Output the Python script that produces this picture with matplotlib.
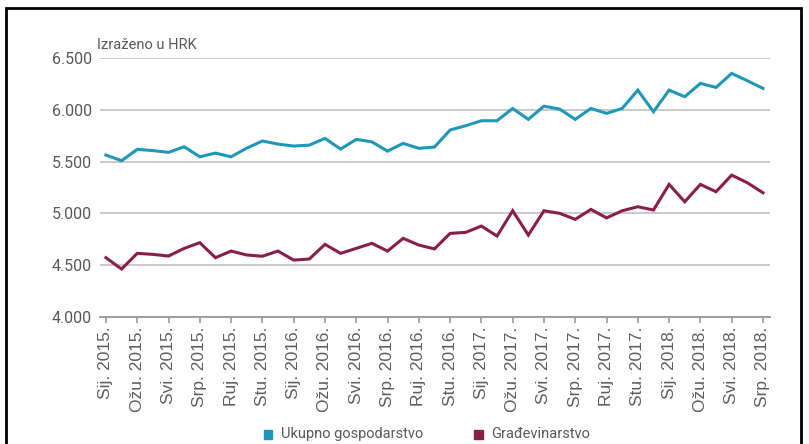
import matplotlib
matplotlib.use("Agg")
import matplotlib.pyplot as plt
from matplotlib.patches import Rectangle
import numpy as np

# mjeseci od sij. 2015. do srp. 2018.
mjeseci = ["Sij.", "Velj.", "Ožu.", "Tra.", "Svi.", "Lip.",
           "Srp.", "Kol.", "Ruj.", "Lis.", "Stu.", "Pro."]
godine = [2015, 2016, 2017, 2018]
oznake = [f"{m} {g}." for g in godine for m in mjeseci][:43]

ukupno = [5564, 5509, 5619, 5607, 5590, 5644, 5547, 5583, 5547, 5631, 5700,
          5670, 5651, 5660, 5725, 5622, 5715, 5692, 5602, 5677, 5629, 5641,
          5806, 5848, 5896, 5896, 6015, 5909, 6037, 6009, 5909, 6015, 5967,
          6015, 6192, 5983, 6192, 6128, 6257, 6218, 6354, 6283, 6209]
gradjevinarstvo = [4571, 4461, 4613, 4603, 4587, 4661, 4716, 4571, 4635, 4597,
                   4585, 4635, 4548, 4558, 4700, 4613, 4661, 4710, 4635, 4758,
                   4693, 4656, 4806, 4816, 4877, 4780, 5025, 4790, 5025, 5000,
                   4942, 5038, 4956, 5025, 5064, 5032, 5280, 5112, 5280, 5209,
                   5370, 5296, 5199]

plava = "#1f97ba"
bordo = "#8a1d4b"
siva = "#595959"

fig = plt.figure(figsize=(8.09, 4.44), dpi=100)
ax = fig.add_axes([0.1236, 0.2867, 0.8284, 0.582])

x = np.arange(len(ukupno))
ax.plot(x, ukupno, color=plava, lw=2.2, solid_joinstyle="miter")
ax.plot(x, gradjevinarstvo, color=bordo, lw=2.2, solid_joinstyle="miter")

ax.set_ylim(4000, 6500)
ax.set_xlim(-0.38, 42.46)
yt = np.arange(4000, 6501, 500)
ax.set_yticks(yt)
ax.set_yticklabels([f"{v // 1000}.{v % 1000:03d}" for v in yt],
                   fontsize=11.5, color=siva, family="Roboto")
ax.grid(axis="y", color="#c6c6c6", lw=1.3)
ax.set_axisbelow(True)

ax.set_xticks(x[::2])
ax.set_xticklabels(oznake[::2], rotation=90, fontsize=12.5, color="#5e5e5e",
                   family="Liberation Sans")

for s in ["top", "right", "left"]:
    ax.spines[s].set_visible(False)
ax.spines["bottom"].set_color("#9a9a9a")
ax.spines["bottom"].set_linewidth(1.3)
ax.tick_params(axis="y", length=0, pad=6)
ax.tick_params(axis="x", length=4, color="#9a9a9a", width=1.2, pad=3)

fig.text(0.12, 0.89, "Izraženo u HRK", fontsize=10.5, color=siva, family="Roboto")

# legenda ispod grafa
fig.patches.append(Rectangle((0.326, 0.012), 0.0105, 0.019, color=plava,
                             transform=fig.transFigure))
fig.text(0.347, 0.022, "Ukupno gospodarstvo", fontsize=10.5, color=siva,
         family="Roboto", va="center")
fig.patches.append(Rectangle((0.586, 0.012), 0.0105, 0.019, color=bordo,
                             transform=fig.transFigure))
fig.text(0.607, 0.022, "Građevinarstvo", fontsize=10.5, color=siva,
         family="Roboto", va="center")

# okvir slike
fig.patches.append(Rectangle((0.0075, -0.05), 0.983, 1.032, fill=False,
                             edgecolor="black", lw=2,
                             transform=fig.transFigure))

fig.savefig("out.png", dpi=100)
